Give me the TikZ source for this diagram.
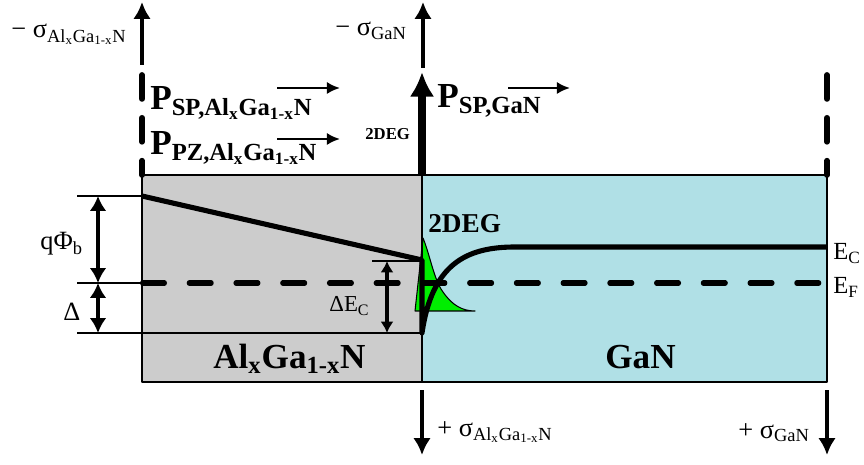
\documentclass[tikz,border=0pt]{standalone}
\usepackage{fontspec}
\setmainfont{Liberation Serif}
\usetikzlibrary{arrows.meta}

\definecolor{algan}{RGB}{204,204,204}
\definecolor{gan}{RGB}{176,224,230}
\definecolor{deg}{RGB}{0,238,0}

\newcommand{\sub}[1]{\textsubscript{#1}}
\newcommand{\alganname}{Al\sub{x}Ga\sub{1-x}N}

\begin{document}
\begin{tikzpicture}[
		x=0.02cm, y=-0.02cm,
		line join=round,
		>=Latex,
		layer/.style={draw=black, line width=1.1pt},
		guide/.style={black, line width=1.1pt},
		band/.style={black, line width=2.9pt},
		fermi/.style={black, line width=2.9pt, line cap=round, dash pattern=on 12.5pt off 14.1pt},
		edgeline/.style={black, line width=3.3pt, line cap=round, dash pattern=on 13.6pt off 10.8pt},
		charge/.style={-{Latex[length=9.6pt, width=10pt]}, line width=2.3pt},
		bigcharge/.style={-{Latex[length=14pt, width=14pt]}, line width=5pt},
		gap/.style={{Latex[length=8.5pt, width=9.6pt]}-{Latex[length=8.5pt, width=9.6pt]}, line width=2.6pt},
		smallgap/.style={{Latex[length=6.5pt, width=7.5pt]}-{Latex[length=6.5pt, width=7.5pt]}, line width=2pt},
		dir/.style={-{Latex[length=7.5pt, width=7pt]}, line width=1.4pt},
		txt/.style={inner sep=0pt, anchor=base west},
		sig/.style={txt, font=\fontsize{15}{18}\selectfont},
		elev/.style={txt, font=\fontsize{14}{16}\selectfont},
		pol/.style={txt, font=\fontsize{20}{22}\selectfont\bfseries},
		lab/.style={txt, font=\fontsize{15}{17}\selectfont}
	]
	
	\useasboundingbox (0,0) rectangle (864,465);
	
	% Parameters (pixels)
	\def\xL{142} % left edge of AlGaN
	\def\xI{422} % interface
	\def\xR{827} % right edge of GaN
	\def\yT{175} % top of layers
	\def\yB{382} % bottom of layers
	\def\yS{196} % surface barrier
	\def\yF{283} % Fermi level
	\def\yV{333} % bottom of offset
	\def\yC{247} % GaN conduction band
	
	% Layers
	\fill[algan] (\xL,\yT) rectangle (\xI,\yB);
	\fill[gan] (\xI,\yT) rectangle (\xR,\yB);
	
	% 2DEG distribution
	\filldraw[fill=deg, draw=black, line width=0.6pt]
	(415,311) -- (423,238) .. controls (430,255) and (434,280) .. (443,292)
	.. controls (452,305) and (462,311) .. (475,311) -- cycle;
	
	% Guide lines
	\draw[guide] (77,\yS) -- (\xL,\yS);
	\draw[guide] (77,\yF) -- (\xL,\yF);
	\draw[guide] (77,\yV) -- (\xI,\yV);
	\draw[guide] (372,261) -- (\xI,261);
	
	% Conduction band
	\draw[band] (\xL,\yS) -- (\xI,260) -- (\xI,\yV)
	.. controls (432,265) and (465,\yC) .. (515,\yC) -- (\xR,\yC);
	
	% Fermi level
	\draw[fermi] (\xL+0.5,\yF) -- (\xR-3,\yF);
	
	% Outline
	\draw[layer] (\xL,\yT) rectangle (\xR,\yB);
	\draw[layer] (\xI,\yT) -- (\xI,\yB);
	
	% Energy gaps
	\coordinate (phiTop) at (98,\yS);
	\coordinate (phiBot) at (98,\yF);
	\coordinate (delBot) at (98,\yV);
	\coordinate (ecTop) at (387,261);
	\coordinate (ecBot) at (387,\yV);
	\draw[gap] (phiTop) -- (phiBot);
	\draw[gap] (phiBot) -- (delBot);
	\draw[smallgap] (ecTop) -- (ecBot);
	
	% Charge arrows and boundaries
	\coordinate (leftFoot) at (\xL,65);
	\coordinate (leftTip) at (\xL,2);
	\coordinate (midFoot) at (423,68);
	\coordinate (midTip) at (423,2);
	\coordinate (degFoot) at (\xI,\yT);
	\coordinate (degTip) at (\xI,72);
	\coordinate (botAFoot) at (\xI,390);
	\coordinate (botATip) at (\xI,455);
	\coordinate (botGFoot) at (\xR,390);
	\coordinate (botGTip) at (\xR,455);
	\draw[charge] (leftFoot) -- (leftTip);
	\draw[charge] (midFoot) -- (midTip);
	\draw[bigcharge] (degFoot) -- (degTip);
	\draw[charge] (botAFoot) -- (botATip);
	\draw[charge] (botGFoot) -- (botGTip);
	\draw[edgeline] (\xL,75) -- (\xL,\yT);
	\draw[edgeline] (\xR,75) -- (\xR,\yT);
	
	% Polarization directions
	\coordinate (spAs) at (277,88);
	\coordinate (spAe) at (340,88);
	\coordinate (pzAs) at (277,139);
	\coordinate (pzAe) at (340,139);
	\coordinate (spGs) at (508,88);
	\coordinate (spGe) at (570,88);
	\draw[dir] (spAs) -- (spAe);
	\draw[dir] (pzAs) -- (pzAe);
	\draw[dir] (spGs) -- (spGe);
	
	% Labels
	\node[sig, anchor=base east] (sigAtop) at (127,38) {− σ\sub{\alganname}};
	\node[sig] (sigGtop) at (335,36) {− σ\sub{GaN}};
	\node[pol] (pspA) at (150,110) {P\sub{SP,\alganname}};
	\node[pol] (ppzA) at (150,155) {P\sub{PZ,\alganname}};
	\node[pol] (pspG) at (437,108) {P\sub{SP,GaN}};
	\node[txt, font=\fontsize{9.5}{11}\selectfont\bfseries] (degTop) at (365,140) {2DEG};
	\node[txt, font=\fontsize{15.5}{18}\selectfont\bfseries] (degBand) at (428,233) {2DEG};
	\node[lab] (phib) at (40,250) {qΦ\sub{b}};
	\node[lab] (delta) at (63,320) {Δ};
	\node[txt, font=\fontsize{13}{15}\selectfont] (dEc) at (329,312) {ΔE\sub{C}};
	\node[elev] (ecLab) at (833,260) {E\sub{C}};
	\node[elev] (efLab) at (833,294) {E\sub{F}};
	\node[pol] (nameA) at (213,368) {\alganname};
	\node[pol] (nameG) at (605,368) {GaN};
	\node[sig] (sigAbot) at (437,436) {+ σ\sub{\alganname}};
	\node[sig] (sigGbot) at (738,438) {+ σ\sub{GaN}};
	
\end{tikzpicture}
\end{document}
